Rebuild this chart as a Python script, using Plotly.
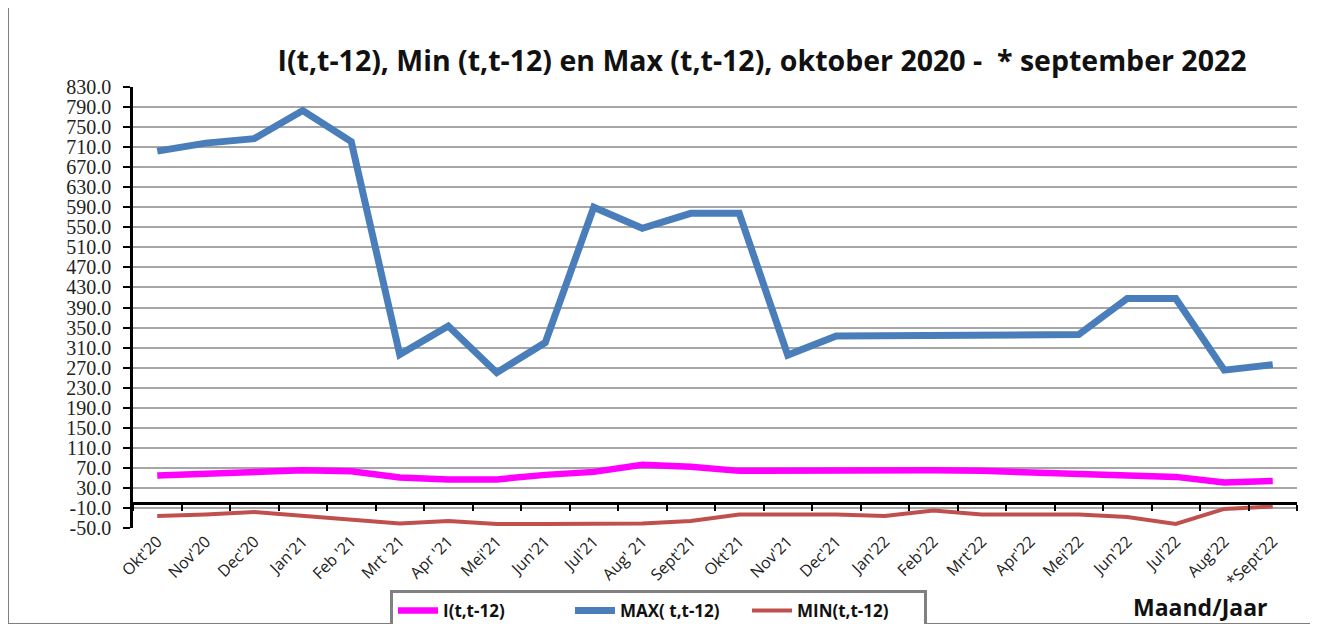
import plotly.graph_objects as go

categories = ["Okt'20", "Nov'20", "Dec'20", "Jan'21", "Feb '21", "Mrt '21", "Apr '21", "Mei'21",
              "Jun'21", "Jul'21", "Aug' 21", "Sept'21", "Okt'21", "Nov'21", "Dec'21", "Jan'22",
              "Feb'22", "Mrt'22", "Apr'22", "Mei'22", "Jun'22", "Jul'22", "Aug'22", "*Sept'22"]

i_values = [55, 58, 63, 65, 63, 51, 47, 47, 56, 62, 76, 72, 64, 65, 64, 64,
            65, 64, 61, 59, 57, 52, 41, 44]
max_values = [702, 718, 727, 783, 721, 296, 353, 260, 320, 590, 548, 578, 578, 295, 333, 333,
              333, 335, 335, 336, 408, 408, 265, 276]
min_values = [-26, -23, -18, -26, -33, -41, -36, -42, -42, -42, -41, -36, -23, -23, -23, -26,
              -15, -23, -23, -23, -28, -42, -12, -7]

y_ticks = [-50 + 40 * k for k in range(23)]
y_ticktext = ["%.1f" % v for v in y_ticks]

series_names = ["I(t,t-12)", "MAX( t,t-12)", "MIN(t,t-12)"]
series_colors = ["#FF00FF", "#4A7EBB", "#C0504D"]
series_widths = [6.5, 7, 4]

fig = go.Figure()
for name, vals, col, w in zip(series_names, [i_values, max_values, min_values], series_colors, series_widths):
    fig.add_trace(go.Scatter(x=categories, y=vals, name=name, mode="lines",
                             line=dict(color=col, width=w), xaxis="x2"))
# invisible trace to give the label axis its categories
fig.add_trace(go.Scatter(x=categories, y=min_values, mode="lines", line=dict(width=0),
                         showlegend=False, hoverinfo="skip", xaxis="x", opacity=0))

ymin, ymax = -50, 830
zero_pos = (0 - ymin) / (ymax - ymin)

# page body has an 8px margin: work in reference pixels and shift by OFF
OFF = 8
W, H = 1318 - OFF, 624 - OFF
L, T = 133 - OFF, 87 - OFF
R = W - (1297 - OFF)
B = H - (528 - OFF)
pw, ph = W - L - R, H - T - B

def px_x(x):
    return (x - OFF - L) / pw

def px_y(y):
    return (H - B - (y - OFF)) / ph

fig.update_layout(
    width=W, height=H,
    margin=dict(l=L, r=R, t=T, b=B, autoexpand=False),
    paper_bgcolor="white", plot_bgcolor="white",
    title=dict(text="<b>I(t,t-12), Min (t,t-12) en Max (t,t-12), oktober 2020 -  * september 2022</b>",
               x=(762 - OFF) / W, xanchor="center", y=1 - (61 - OFF) / H, yanchor="middle",
               font=dict(family="Open Sans", size=28.5, color="#111")),
    xaxis=dict(type="category", categoryorder="array", categoryarray=categories,
               range=[-0.5, len(categories) - 0.5],
               showline=False, showgrid=False, ticks="", tickangle=-45,
               tickfont=dict(family="Open Sans", size=16, color="#222")),
    xaxis2=dict(type="category", categoryorder="array", categoryarray=categories,
                range=[-0.5, len(categories) - 0.5],
                overlaying="x", anchor="free", position=zero_pos, side="bottom",
                showline=True, linecolor="black", linewidth=2.5,
                ticks="outside", ticklen=6, tickwidth=2, tickcolor="black",
                tickson="boundaries", showticklabels=False, showgrid=False),
    yaxis=dict(range=[ymin, ymax], tickvals=y_ticks, ticktext=y_ticktext,
               showgrid=True, gridcolor="#A6A6A6", gridwidth=1.5,
               showline=True, linecolor="black", linewidth=2.5,
               ticks="outside", ticklen=7, tickwidth=2, tickcolor="black",
               ticklabelstandoff=8,
               zeroline=False,
               tickfont=dict(family="Liberation Serif", size=20, color="#222")),
    legend=dict(orientation="h", x=px_x(390), xanchor="left", y=px_y(590), yanchor="top",
                bgcolor="white", bordercolor="#808080", borderwidth=3,
                font=dict(family="Open Sans", size=17, color="#111", weight="bold"),
                entrywidth=122, entrywidthmode="pixels", itemwidth=40),
    showlegend=True,
)

fig.add_annotation(text="<b>Maand/Jaar</b>", xref="paper", yref="paper",
                   x=px_x(1200), y=px_y(607), xanchor="center", yanchor="middle",
                   showarrow=False, font=dict(family="Open Sans", size=23, color="#111"))

fig.add_shape(type="rect", xref="paper", yref="paper",
              x0=px_x(8), x1=px_x(1311),
              y0=px_y(624), y1=px_y(7),
              line=dict(color="#7F7F7F", width=2), fillcolor="rgba(0,0,0,0)", layer="below")

fig.write_html("out.html")
